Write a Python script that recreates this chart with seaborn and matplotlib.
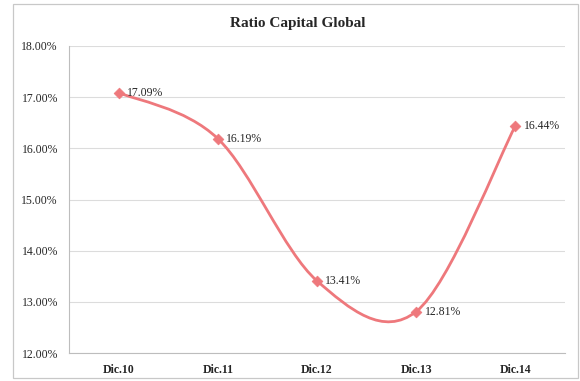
import numpy as np
import pandas as pd
import matplotlib
matplotlib.use("Agg")
import matplotlib.pyplot as plt
from matplotlib.path import Path
from matplotlib.patches import PathPatch, Rectangle
from matplotlib.ticker import FuncFormatter
import seaborn as sns

# Global capital ratio by year-end period
periods = ["Dic.10", "Dic.11", "Dic.12", "Dic.13", "Dic.14"]
ratio = [17.09, 16.19, 13.41, 12.81, 16.44]
y_ticks = [12, 13, 14, 15, 16, 17, 18]

df = pd.DataFrame({"periodo": periods, "ratio": ratio})

sns.set_theme(style="white")
plt.rcParams["font.family"] = ["Liberation Serif", "DejaVu Serif"]

line_color = "#EE787C"
text_color = "#262626"

fig = plt.figure(figsize=(5.8, 3.81), dpi=100)
fig.patch.set_facecolor("white")
fig.patches.append(Rectangle((13 / 580, 3 / 381), 565 / 580, 374 / 381,
                             transform=fig.transFigure, fill=False,
                             edgecolor="#c8c8c8", linewidth=0.9))

ax = fig.add_axes([69 / 580, 1 - 353 / 381, (565 - 69) / 580, (353 - 46) / 381])

# Smoothed curve through the points (cardinal Bezier, like office charts)
xs = np.arange(len(ratio), dtype=float)
ys = np.array(ratio, dtype=float)
verts = [(xs[0], ys[0])]
codes = [Path.MOVETO]
n = len(xs)
for i in range(n - 1):
    p0 = np.array([xs[max(i - 1, 0)], ys[max(i - 1, 0)]])
    p1 = np.array([xs[i], ys[i]])
    p2 = np.array([xs[i + 1], ys[i + 1]])
    p3 = np.array([xs[min(i + 2, n - 1)], ys[min(i + 2, n - 1)]])
    c1 = p1 + (p2 - p0) / 6.0
    c2 = p2 - (p3 - p1) / 6.0
    verts += [tuple(c1), tuple(c2), tuple(p2)]
    codes += [Path.CURVE4] * 3
ax.add_patch(PathPatch(Path(verts, codes), facecolor="none",
                       edgecolor=line_color, linewidth=2.0, zorder=3))

sns.scatterplot(data=df, x="periodo", y="ratio", marker="D", s=30,
                color=line_color, edgecolor=line_color, linewidth=0.5,
                ax=ax, zorder=4, legend=False)

for i, v in enumerate(ratio):
    ax.annotate(f"{v:.2f}%", (i, v), xytext=(6, 0), textcoords="offset points",
                ha="left", va="center", fontsize=8.5, color=text_color, zorder=5)

ax.set_xlim(-0.5, len(periods) - 0.5)
ax.set_ylim(12, 18)
ax.set_yticks(y_ticks)
ax.yaxis.set_major_formatter(FuncFormatter(lambda v, _: f"{v:.2f}%"))
ax.set_xticks(range(len(periods)))
ax.set_xticklabels(periods, fontweight="bold")
ax.set_xlabel("")
ax.set_ylabel("")
ax.tick_params(axis="both", length=0, labelsize=8.5, colors=text_color)
ax.tick_params(axis="y", pad=8)
ax.tick_params(axis="x", pad=8)

ax.grid(axis="y", color="#dcdcdc", linewidth=0.8)
ax.set_axisbelow(True)
for side in ["top", "right"]:
    ax.spines[side].set_visible(False)
for side in ["left", "bottom"]:
    ax.spines[side].set_color("#bdbdbd")
    ax.spines[side].set_linewidth(0.8)

fig.text(298 / 580, 1 - 24 / 381, "Ratio Capital Global", ha="center", va="center",
         fontsize=11, fontweight="bold", color=text_color)

fig.savefig("out.png", dpi=100)
